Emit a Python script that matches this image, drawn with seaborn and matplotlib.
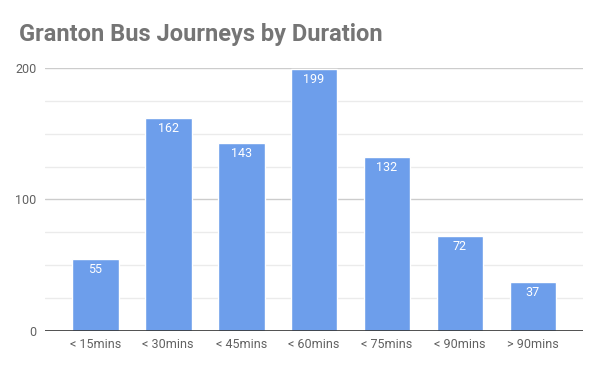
import matplotlib
matplotlib.use("Agg")
import matplotlib.pyplot as plt
import seaborn as sns
import pandas as pd

categories = ["< 15mins", "< 30mins", "< 45mins", "< 60mins", "< 75mins", "< 90mins", "> 90mins"]
journeys = [55, 162, 143, 199, 132, 72, 37]
yticks = [0, 100, 200]

df = pd.DataFrame({"duration": categories, "journeys": journeys})

sns.set_theme(style="white")
plt.rcParams['font.family'] = ['Roboto', 'DejaVu Sans']

fig = plt.figure(figsize=(6, 3.71), dpi=100)
ax = fig.add_axes([0.075, 0.1078, 0.897, 0.709])

for v in [25, 50, 75, 125, 150, 175]:
    ax.axhline(v, color="#ebebeb", lw=1, zorder=0)
for v in [100, 200]:
    ax.axhline(v, color="#cccccc", lw=1, zorder=0)

sns.barplot(data=df, x="duration", y="journeys", color="#6d9eeb", width=0.64,
            saturation=1, ax=ax, zorder=2)
ax.axhline(0, color="#333333", lw=1.2, zorder=3)

for i, v in enumerate(journeys):
    ax.text(i, v - 3, str(v), ha="center", va="top", color="white", fontsize=9, zorder=4)

ax.set_xlim(-0.69, 6.69)
ax.set_ylim(0, 200)
ax.set_yticks(yticks)
ax.set_yticklabels([str(t) for t in yticks])
ax.tick_params(axis="both", length=0, labelsize=9, labelcolor="#616161")
ax.tick_params(axis="y", pad=6)
ax.tick_params(axis="x", pad=5)
ax.set_xlabel("")
ax.set_ylabel("")
for s in ax.spines.values():
    s.set_visible(False)

fig.text(0.032, 0.907, "Granton Bus Journeys by Duration", fontsize=17, fontweight="bold",
         color="#757575", ha="left", va="center")

fig.savefig("out.png", dpi=100)
